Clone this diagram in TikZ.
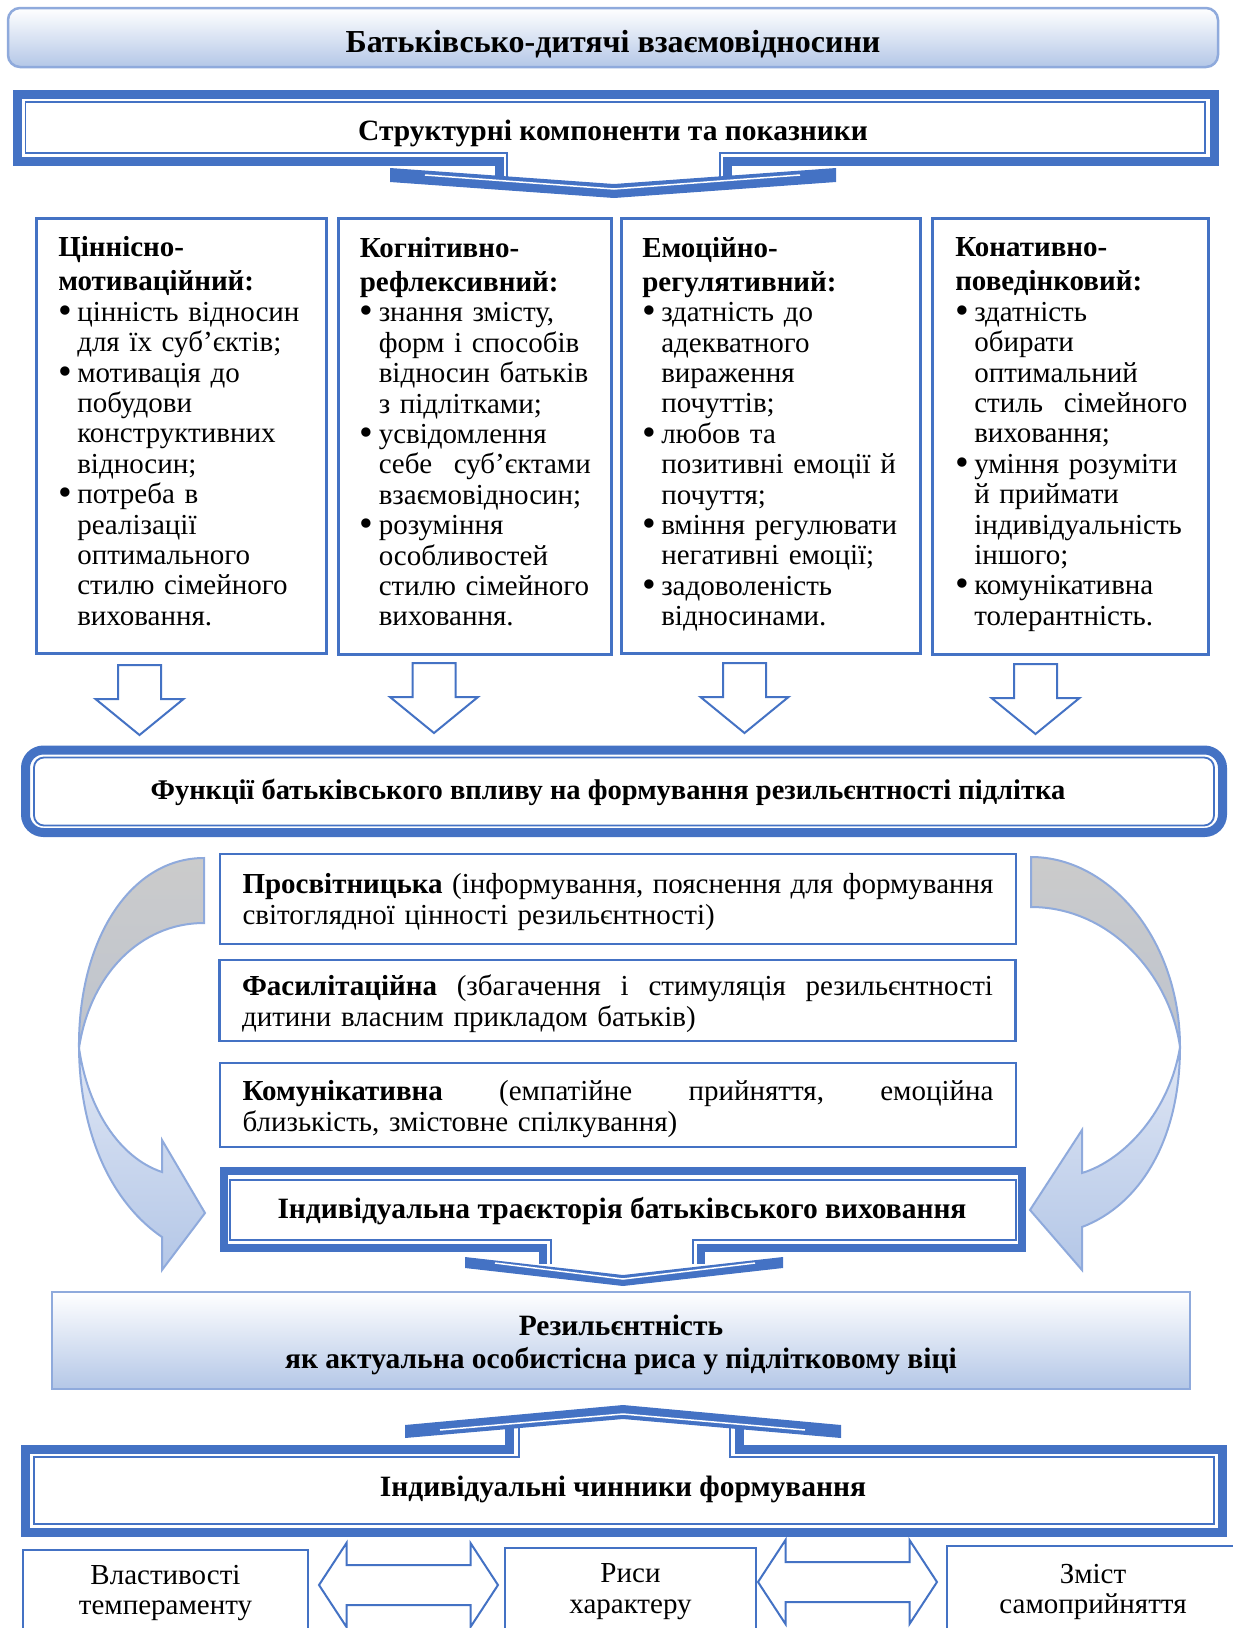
\documentclass[tikz,border=0pt]{standalone}
\usepackage{graphicx}
\usepackage{fontspec}
\setmainfont{Liberation Serif}
\definecolor{frameblue}{HTML}{4472C4}
\definecolor{lightframe}{HTML}{8FAADC}
\definecolor{paleblue}{HTML}{B4C7E7}
\definecolor{arcgrey}{HTML}{CBCBCB}
\definecolor{arcgreyb}{HTML}{BEC4CE}
\definecolor{arcpale}{HTML}{DFE6F4}
\newcommand{\bodyfont}{\fontsize{29}{30.8}\selectfont}
\newcommand{\headfont}{\fontsize{29.5}{32}\selectfont\bfseries}
\newcommand{\bul}{\makebox[19pt][l]{\raisebox{-2pt}{\scalebox{1.35}{\textbullet}}}}
\newcommand{\ind}{\hspace*{19pt}}

\begin{document}
\begin{tikzpicture}[x=1pt, y=-1pt, font=\bodyfont,
    gradbox/.style={draw=lightframe, line width=2.5pt, top color=white, bottom color=paleblue},
    colbox/.style={draw=frameblue, line width=2.5pt, anchor=north west, inner sep=0pt},
    coltext/.style={inner sep=0pt, align=left, font=\fontsize{29}{30.4}\selectfont},
    funcbox/.style={draw=frameblue, line width=2.5pt, inner sep=0pt, minimum width=796pt},
    functext/.style={inner sep=0pt, align=left, text width=751pt},
    factbox/.style={draw=frameblue, line width=2pt, anchor=north, inner sep=0pt},
    headtext/.style={font=\headfont, align=center},
    thickline/.style={draw=frameblue, line width=9pt},
    thinline/.style={draw=frameblue, line width=1.8pt},
    chevron/.style={fill=frameblue},
    chevgap/.style={draw=white, line width=1.5pt},
    blockarrow/.style={draw=frameblue, line width=2pt, fill=white},
    arcback/.style={draw=lightframe, line width=2pt, top color=arcgrey, bottom color=arcgreyb},
    arcfront/.style={draw=lightframe, line width=2pt, top color=arcpale, bottom color=paleblue},
    downarrow/.pic={\draw[blockarrow] (-21.5,0) -- (21.5,0) -- (21.5,34) -- (44,34) -- (0,70) -- (-44,34) -- (-21.5,34) -- cycle;},
    dblarrow/.pic={\draw[blockarrow] (-89.5,0) -- (-62,-42) -- (-62,-20) -- (62,-20) -- (62,-42) -- (89.5,0) -- (62,42) -- (62,20) -- (-62,20) -- (-62,42) -- cycle;}
  ]
  \useasboundingbox (0,0) rectangle (1233,1628);
  \clip (0,0) rectangle (1233,1628);

  % --- Заголовок ---
  \node[gradbox, rounded corners=12pt, minimum width=1210pt, minimum height=59pt] (title) at (613,37.5) {};
  \node[headtext, font=\fontsize{32}{34}\selectfont\bfseries] (titletext) at ([yshift=-7pt]title.center) {Батьківсько-дитячі взаємовідносини};

  % --- Структурні компоненти (рамка з виносом донизу) ---
  \draw[thickline] (499,180) -- (499,161.5) -- (17,161.5) -- (17,94.5) -- (1214,94.5) -- (1214,161.5) -- (727,161.5) -- (727,180);
  \draw[thinline] (507,180) -- (507,153) -- (25.5,153) -- (25.5,102) -- (1205,102) -- (1205,153) -- (720,153) -- (720,180);
  \fill[chevron] (390,168) -- (614,184) -- (836,168) -- (836,182) -- (614,198) -- (390,182) -- cycle;
  \draw[chevgap] (425,175) -- (614,189) -- (800,175);
  \node[headtext] (struct) at (613,133) {Структурні компоненти та показники};

  % --- Компоненти ---
  \node[colbox, minimum width=290pt, minimum height=435pt] (c1) at (35,217) {};
  \node[colbox, minimum width=273pt, minimum height=436pt] (c2) at (337,217) {};
  \node[colbox, minimum width=299pt, minimum height=435pt] (c3) at (620,217) {};
  \node[colbox, minimum width=276pt, minimum height=436pt] (c4) at (931,217) {};

  \node[coltext, text width=246pt] (c1text) at ([yshift=4.5pt]c1.center) {%
    \textbf{Ціннісно-}\\[3.6pt]
    \textbf{мотиваційний:}\\
    \bul цінність відносин\\
    \ind для їх суб’єктів;\\
    \bul мотивація до\\
    \ind побудови\\
    \ind конструктивних\\
    \ind відносин;\\
    \bul потреба в\\
    \ind реалізації\\
    \ind оптимального\\
    \ind стилю сімейного\\
    \ind виховання.};
  \node[coltext, text width=231pt] (c2text) at ([xshift=0.5pt, yshift=4.5pt]c2.center) {%
    \textbf{Когнітивно-}\\[3.6pt]
    \textbf{рефлексивний:}\\
    \bul знання змісту,\\
    \ind форм і способів\\
    \ind відносин батьків\\
    \ind з підлітками;\\
    \bul усвідомлення\\
    \ind себе\hfill суб’єктами\\
    \ind взаємовідносин;\\
    \bul розуміння\\
    \ind особливостей\\
    \ind стилю сімейного\\
    \ind виховання.};
  \node[coltext, text width=257pt] (c3text) at ([yshift=1.5pt]c3.center) {%
    \textbf{Емоційно-}\\[3.6pt]
    \textbf{регулятивний:}\\
    \bul здатність до\\
    \ind адекватного\\
    \ind вираження\\
    \ind почуттів;\\
    \bul любов та\\
    \ind позитивні емоції й\\
    \ind почуття;\\
    \bul вміння регулювати\\
    \ind негативні емоції;\\
    \bul задоволеність\\
    \ind відносинами.};
  \node[coltext, text width=232pt] (c4text) at ([xshift=1pt, yshift=1.5pt]c4.center) {%
    \textbf{Конативно-}\\[3.6pt]
    \textbf{поведінковий:}\\
    \bul здатність\\
    \ind обирати\\
    \ind оптимальний\\
    \ind стиль\hfill сімейного\\
    \ind виховання;\\
    \bul уміння розуміти\\
    \ind й приймати\\
    \ind індивідуальність\\
    \ind іншого;\\
    \bul комунікативна\\
    \ind толерантність.};

  % --- Стрілки до функцій ---
  \pic at (139.5,665) {downarrow};
  \pic at (434,663) {downarrow};
  \pic at (744.5,663) {downarrow};
  \pic at (1035.5,664) {downarrow};

  % --- Функції батьківського впливу ---
  \draw[thickline, rounded corners=18pt] (25.5,750) rectangle (1222.5,832.5);
  \draw[thinline, rounded corners=10pt] (34,757.5) rectangle (1214,825.5);
  \node[headtext, font=\fontsize{28.5}{32}\selectfont\bfseries] (funcs) at (608,792) {Функції батьківського впливу на формування резильєнтності підлітка};

  \node[funcbox, minimum height=90pt] (p1) at (618,899) {};
  \node[funcbox, minimum height=81pt] (p2) at (617.5,1000.5) {};
  \node[funcbox, minimum height=84pt] (p3) at (618,1105) {};
  \node[functext] (p1text) at ([yshift=-3pt]p1.center) {\textbf{Просвітницька}\hfill(інформування,\hfill пояснення\hfill для\hfill формування\\світоглядної цінності резильєнтності)};
  \node[functext] (p2text) at ([yshift=-3pt]p2.center) {\textbf{Фасилітаційна}\hfill(збагачення\hfill і\hfill стимуляція\hfill резильєнтності\\дитини власним прикладом батьків)};
  \node[functext] (p3text) at ([yshift=-4pt]p3.center) {\textbf{Комунікативна}\hfill(емпатійне\hfill прийняття,\hfill емоційна\\близькість, змістовне спілкування)};

  % --- Вигнуті стрілки ---
  % ліва
  \draw[arcback] (204,858) .. controls (130,858) and (78,940) .. (79,1048)
    .. controls (90,975) and (140,923) .. (204,923) -- cycle;
  \draw[arcfront] (79,1048) .. controls (80,1140) and (115,1205) .. (162,1237)
    -- (162,1270) -- (205,1213) -- (162,1140) -- (162,1172)
    .. controls (120,1158) and (88,1110) .. (79,1048) -- cycle;
  % права
  \draw[arcback] (1031,857) .. controls (1110,857) and (1180,940) .. (1180,1047)
    .. controls (1170,975) and (1110,907) .. (1031,907) -- cycle;
  \draw[arcfront] (1180,1047) .. controls (1180,1140) and (1140,1205) .. (1082,1227)
    -- (1082,1270) -- (1030,1210) -- (1082,1130) -- (1082,1173)
    .. controls (1125,1160) and (1170,1110) .. (1180,1047) -- cycle;

  % --- Індивідуальна траєкторія (рамка з виносом донизу) ---
  \draw[thickline, line width=8pt] (543,1264) -- (543,1248) -- (223.5,1248) -- (223.5,1171) -- (1022,1171) -- (1022,1248) -- (701,1248) -- (701,1264);
  \draw[thinline] (551,1264) -- (551,1240) -- (230,1240) -- (230,1180) -- (1016,1180) -- (1016,1240) -- (693,1240) -- (693,1264);
  \fill[chevron] (465,1257) -- (623,1275) -- (783,1257) -- (783,1268) -- (623,1286) -- (465,1268) -- cycle;
  \draw[chevgap] (495,1263) -- (623,1279) -- (755,1263);
  \node[headtext] (traj) at (622,1211) {Індивідуальна траєкторія батьківського виховання};

  % --- Резильєнтність ---
  \node[gradbox, minimum width=1138pt, minimum height=97pt] (resil) at (621,1340.5) {};
  \node[headtext] (resiltext) at ([yshift=-4.5pt]resil.center) {Резильєнтність\\[1pt]як актуальна особистісна риса у підлітковому віці};

  % --- Індивідуальні чинники (рамка з виносом догори) ---
  \draw[thickline] (509,1426) -- (509,1449) -- (25.5,1449) -- (25.5,1532) -- (1222,1532) -- (1222,1449) -- (739,1449) -- (739,1426);
  \draw[thinline] (519,1426) -- (519,1457) -- (34,1457) -- (34,1524) -- (1214,1524) -- (1214,1457) -- (730,1457) -- (730,1426);
  \fill[chevron] (405,1438) -- (623,1419) -- (841,1438) -- (841,1425) -- (623,1405) -- (405,1425) -- cycle;
  \draw[chevgap] (440,1430) -- (623,1414) -- (805,1430);
  \node[headtext] (factors) at (623,1489) {Індивідуальні чинники формування};

  % --- Чинники ---
  \node[factbox, minimum width=285pt, minimum height=84pt] (f1) at (165.5,1549) {};
  \node[factbox, minimum width=251pt, minimum height=86pt] (f2) at (630.5,1547) {};
  \node[factbox, minimum width=292pt, minimum height=90pt] (f3) at (1093,1545) {};
  \node[align=center, inner sep=0pt] (f1text) at ([yshift=-1pt]f1.center) {Властивості\\темпераменту};
  \node[align=center, inner sep=0pt] (f2text) at ([yshift=-1pt]f2.center) {Риси\\характеру};
  \node[align=center, inner sep=0pt] (f3text) at ([yshift=-1pt]f3.center) {Зміст\\самоприйняття};
  \pic at (408.5,1585) {dblarrow};
  \pic at (847.5,1582) {dblarrow};
\end{tikzpicture}
\end{document}
